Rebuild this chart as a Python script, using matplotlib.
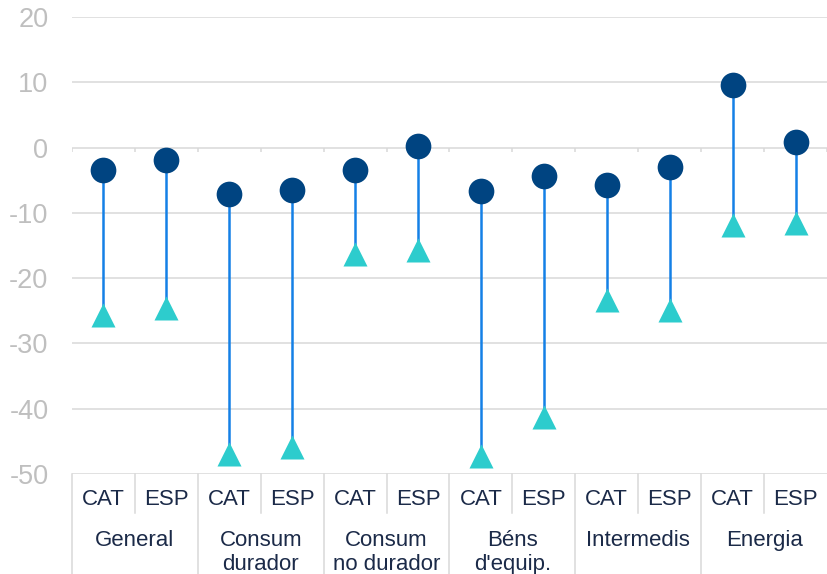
import matplotlib.pyplot as plt
import numpy as np

plt.rcParams['font.family'] = ['Liberation Sans', 'DejaVu Sans']
plt.rcParams['axes.unicode_minus'] = False

grups = ['General', 'Consum\ndurador', 'Consum\nno durador', "Béns\nd'equip.", 'Intermedis', 'Energia']
zones = ['CAT', 'ESP']

# punt rodó (fosc) i triangle (turquesa) per a cada zona dins de cada grup
rodo = [-3.5, -1.9, -7.1, -6.5, -3.4, 0.2, -6.6, -4.3, -5.7, -2.9, 9.6, 0.8]
triangle = [-25.7, -24.6, -46.9, -45.8, -16.3, -15.7, -47.3, -41.2, -23.4, -24.9, -11.9, -11.6]

c_rodo = '#004481'
c_tri = '#2dcccd'
c_linia = '#1480e6'
c_grid = '#d9d9d9'
c_text = '#1b2a48'

x = np.arange(len(rodo))

fig = plt.figure(figsize=(8.27, 5.74), dpi=100)
ax = fig.add_axes([72/827, 100/574, 755/827, 457/574])

ax.vlines(x, triangle, rodo, color=c_linia, lw=1.8, zorder=2)
ax.plot(x, triangle, '^', ms=17.5, color=c_tri, mec='none', zorder=3)
ax.plot(x, rodo, 'o', ms=18.5, color=c_rodo, mec='none', zorder=4)

ax.set_xlim(-0.5, len(rodo) - 0.5)
ax.set_ylim(-50, 20)
ax.set_yticks(np.arange(-50, 21, 10))
ax.yaxis.grid(True, color=c_grid, lw=1.1)
ax.set_axisbelow(True)
ax.tick_params(axis='y', length=0, pad=17, labelsize=19.5, labelcolor='#bfbfbf')
ax.set_xticks([])
for s in ax.spines.values():
    s.set_visible(False)

# petites marques de l'eix horitzontal a y=0
ax.vlines(np.arange(-0.5, len(rodo)), -0.75, 0, color=c_grid, lw=1.1, zorder=1)

tr = ax.get_xaxis_transform()
for i in range(len(rodo)):
    ax.text(i, -0.056, zones[i % 2], transform=tr, ha='center', va='center',
            fontsize=16, color=c_text)
for i in range(1, len(rodo), 2):
    ax.plot([i - 0.5, i - 0.5], [0, -0.086], transform=tr, color=c_grid, lw=1.1, clip_on=False)
for g in range(len(grups)):
    ax.plot([2*g - 0.5, 2*g - 0.5], [0, -0.22], transform=tr, color=c_grid, lw=1.1, clip_on=False)
    ax.text(2*g + 0.5, -0.122, grups[g], transform=tr, ha='center', va='top',
            fontsize=16, color=c_text, linespacing=1.2)

fig.savefig('out.png', dpi=100)
